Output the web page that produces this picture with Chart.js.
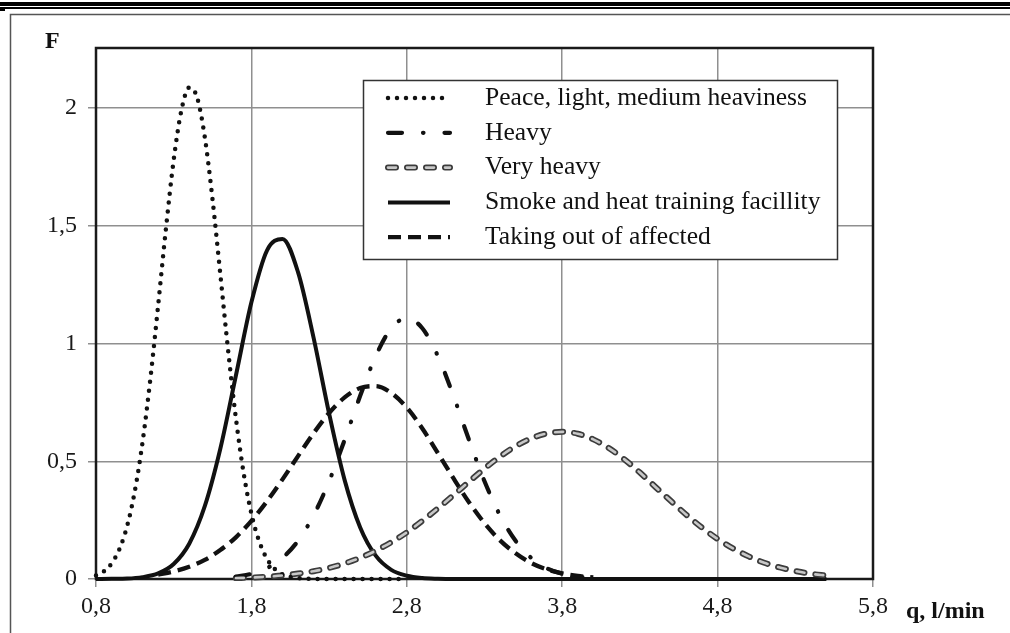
<!DOCTYPE html>
<html><head><meta charset="utf-8">
<script src="https://cdn.jsdelivr.net/npm/chart.js@4.4.1/dist/chart.umd.min.js"></script>
<style>html,body{margin:0;padding:0;background:#fff;overflow:hidden}canvas{display:block}</style>
</head><body>
<canvas id="c" width="1010" height="633"></canvas>
<script>
// ---- data ----
const xTicks = [0.8, 1.8, 2.8, 3.8, 4.8, 5.8];
const xTickLabels = ["0,8", "1,8", "2,8", "3,8", "4,8", "5,8"];
const yTicks = [0, 0.5, 1, 1.5, 2];
const yTickLabels = ["0", "0,5", "1", "1,5", "2"];
const yAxisTitle = "F";
const xAxisTitle = "q, l/min";

const seriesLabels = ["Peace, light, medium heaviness", "Heavy", "Very heavy", "Smoke and heat training facillity", "Taking out of affected"];

// fine grid for the narrow dotted curve
const qFine = [0.8,0.85,0.9,0.95,1.0,1.05,1.1,1.15,1.2,1.25,1.3,1.35,1.4,1.45,1.5,1.55,1.6,1.65,1.7,1.75,1.8,1.85,1.9,1.95,2.0,2.05,2.1,2.15,2.2,2.25,2.3,2.35,2.4,2.45,2.5,2.55,2.6,2.65,2.7,2.75,2.8];
const peace = [0.015,0.032,0.066,0.126,0.224,0.374,0.583,0.851,1.163,1.488,1.780,1.992,2.087,2.046,1.877,1.611,1.294,0.972,0.684,0.450,0.277,0.160,0.086,0.043,0.020,0.009,0.004,0.002,0.001,0,0,0,0,0,0,0,0,0,0,0,0];

const q = [0.8,0.9,1.0,1.1,1.2,1.3,1.4,1.5,1.6,1.7,1.8,1.9,2.0,2.1,2.2,2.3,2.4,2.5,2.6,2.7,2.8,2.9,3.0,3.1,3.2,3.3,3.4,3.5,3.6,3.7,3.8,3.9,4.0,4.1,4.2,4.3,4.4,4.5,4.6,4.7,4.8,4.9,5.0,5.1,5.2,5.3,5.4,5.5];
const heavy = [null,null,null,null,null,null,null,null,null,0.010,0.022,0.046,0.090,0.162,0.270,0.415,0.591,0.778,0.947,1.065,1.108,1.065,0.947,0.778,0.591,0.415,0.270,0.162,0.090,0.046,0.022,0.010,0.004,null,null,null,null,null,null,null,null,null,null,null,null,null,null,null];
const veryHeavy = [null,null,null,null,null,null,null,null,null,0.004,0.006,0.010,0.015,0.023,0.033,0.047,0.066,0.090,0.120,0.156,0.198,0.247,0.300,0.356,0.413,0.469,0.520,0.564,0.597,0.618,0.625,0.617,0.593,0.556,0.508,0.452,0.391,0.331,0.272,0.218,0.170,0.130,0.096,0.069,0.049,0.034,0.022,0.015];
const smoke = [0,0.001,0.002,0.008,0.024,0.064,0.150,0.309,0.553,0.863,1.175,1.395,1.444,1.303,1.025,0.703,0.420,0.219,0.099,0.039,0.014,0.004,0.001,0,0,0,0,0,0,0,0,0,0,0,0,0,0,0,0,0,0,0,0,0,0,0,0,0];
const takingOut = [null,null,null,null,0.019,0.032,0.052,0.081,0.123,0.177,0.247,0.330,0.423,0.522,0.619,0.705,0.771,0.811,0.819,0.790,0.728,0.639,0.535,0.428,0.326,0.237,0.164,0.109,0.068,0.041,0.024,0.013,0.007,null,null,null,null,null,null,null,null,null,null,null,null,null,null,null];

function pts(xs, ys) {
  const out = [];
  xs.forEach((x, i) => { if (ys[i] !== null && ys[i] !== undefined) out.push({x: x, y: ys[i]}); });
  return out;
}

const SERIF = '"Liberation Serif", "Times New Roman", serif';

const datasets = [
  {label: seriesLabels[0], data: pts(qFine, peace), borderColor: '#111', borderWidth: 4.5, borderDash: [0, 9], borderCapStyle: 'round'},
  {label: seriesLabels[1], data: pts(q, heavy), borderColor: '#111', borderWidth: 4.2, borderDash: [14, 21, 0.5, 21], borderCapStyle: 'round'},
  {label: seriesLabels[2], data: pts(q, veryHeavy), borderColor: '#3c3c3c', borderWidth: 6, borderDash: [8, 11], borderCapStyle: 'round', inner: {color: '#c8c8c8', width: 2.6}},
  {label: seriesLabels[2] + ' (inner)', data: pts(q, veryHeavy), borderColor: '#c8c8c8', borderWidth: 2.6, borderDash: [8, 11], borderCapStyle: 'round', noLegend: true, order: -1},
  {label: seriesLabels[3], data: pts(q, smoke), borderColor: '#111', borderWidth: 4, borderDash: [], borderCapStyle: 'butt'},
  {label: seriesLabels[4], data: pts(q, takingOut), borderColor: '#111', borderWidth: 4.3, borderDash: [13, 7], borderCapStyle: 'butt'}
];
datasets.forEach(d => { d.fill = false; d.pointRadius = 0; d.clip = 5; d.cubicInterpolationMode = 'monotone'; if (d.order === undefined) d.order = 0; });

const pageDecor = {
  id: 'pageDecor',
  beforeDraw(chart) {
    const c = chart.ctx;
    c.save();
    c.fillStyle = '#fff';
    c.fillRect(0, 0, chart.width, chart.height);
    c.fillStyle = '#000';
    c.fillRect(0, 2, chart.width, 4);
    c.fillRect(0, 7, chart.width, 2);
    c.fillRect(0, 9, 5, 2);
    c.strokeStyle = '#555';
    c.lineWidth = 1.5;
    c.beginPath();
    c.moveTo(10.5, chart.height);
    c.lineTo(10.5, 14.5);
    c.lineTo(chart.width, 14.5);
    c.stroke();
    c.restore();
  }
};

const plotFrame = {
  id: 'plotFrame',
  beforeDatasetsDraw(chart) {
    const a = chart.chartArea, c = chart.ctx;
    c.save();
    c.strokeStyle = '#1a1a1a';
    c.lineWidth = 2.5;
    c.strokeRect(a.left, a.top, a.right - a.left, a.bottom - a.top);
    c.restore();
  }
};

const boxLegend = {
  id: 'boxLegend',
  afterDraw(chart) {
    const c = chart.ctx;
    c.save();
    const bx = 363, by = 80, bw = 474, bh = 179;
    c.fillStyle = '#fff';
    c.fillRect(bx, by, bw, bh);
    c.strokeStyle = '#333';
    c.lineWidth = 1.5;
    c.strokeRect(bx + 0.5, by + 0.5, bw, bh);
    const items = chart.data.datasets.filter(d => !d.noLegend);
    items.forEach((d, i) => {
      const y = 98 + i * 34.8;
      const x0 = 388, x1 = 450;
      const strokeIt = (color, width, dash, cap) => {
        c.beginPath();
        c.strokeStyle = color; c.lineWidth = width; c.setLineDash(dash || []); c.lineCap = cap || 'butt';
        c.moveTo(x0, y); c.lineTo(x1, y); c.stroke();
      };
      strokeIt(d.borderColor, d.borderWidth, d.borderDash, d.borderCapStyle);
      if (d.inner) strokeIt(d.inner.color, d.inner.width, d.borderDash, d.borderCapStyle);
      c.setLineDash([]);
      c.fillStyle = '#111';
      c.font = '25.6px ' + SERIF;
      c.textBaseline = 'middle';
      c.textAlign = 'left';
      c.fillText(d.label, 485, y);
    });
    // axis titles
    c.font = 'bold 24px ' + SERIF;
    c.fillStyle = '#111';
    c.textBaseline = 'alphabetic';
    c.textAlign = 'left';
    c.fillText(yAxisTitle, 45, 48);
    c.fillText(xAxisTitle, 906, 618);
    c.restore();
  }
};

const tickFont = {family: SERIF, size: 24};
const gridOpts = {color: '#8f8f8f', lineWidth: 1.5, drawTicks: true, tickLength: 8, tickColor: '#8f8f8f'};

new Chart(document.getElementById('c').getContext('2d'), {
  type: 'line',
  data: {datasets: datasets},
  options: {
    responsive: false, devicePixelRatio: 1, animation: false, events: [],
    layout: {padding: {top: 48, right: 137, bottom: 0, left: 0}},
    plugins: {legend: {display: false}, tooltip: {enabled: false}, title: {display: false}},
    elements: {point: {radius: 0}},
    scales: {
      x: {
        type: 'linear', min: 0.8, max: 5.8,
        afterBuildTicks: (a) => { a.ticks = xTicks.map(v => ({value: v})); },
        afterFit: (a) => { a.height = 54; },
        ticks: {callback: (v, i) => xTickLabels[i], font: tickFont, color: '#1a1a1a', padding: 5, maxRotation: 0, autoSkip: false},
        grid: gridOpts, border: {display: false}
      },
      y: {
        type: 'linear', min: 0, max: 2.255,
        afterBuildTicks: (a) => { a.ticks = yTicks.map(v => ({value: v})); },
        afterFit: (a) => { a.width = 96; },
        ticks: {callback: (v, i) => yTickLabels[i], font: tickFont, color: '#1a1a1a', padding: 11, autoSkip: false},
        grid: gridOpts, border: {display: false}
      }
    }
  },
  plugins: [pageDecor, plotFrame, boxLegend]
});
</script>
</body></html>
